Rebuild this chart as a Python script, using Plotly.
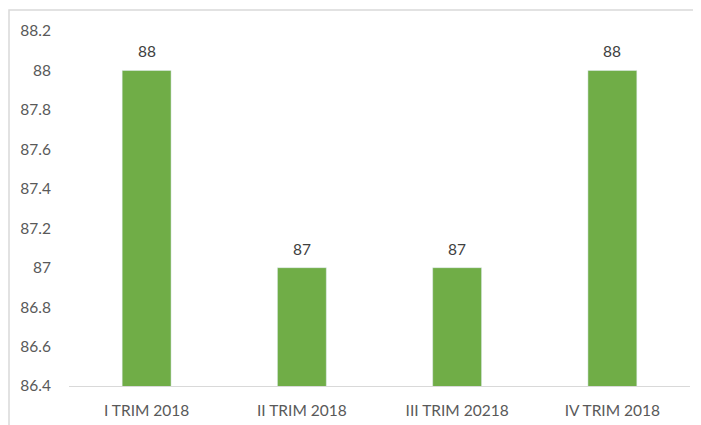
import plotly.graph_objects as go

categories = ["I TRIM 2018", "II TRIM 2018", "III TRIM 20218", "IV TRIM 2018"]
values = [88, 87, 87, 88]
tick_vals = [86.4, 86.6, 86.8, 87.0, 87.2, 87.4, 87.6, 87.8, 88.0, 88.2]
tick_text = ["86.4", "86.6", "86.8", "87", "87.2", "87.4", "87.6", "87.8", "88", "88.2"]

FONT = "Lato, 'Open Sans', sans-serif"
GREY = "#595959"
FS = 15.5

fig = go.Figure(go.Bar(
    x=categories, y=values, marker_color="#70AD47",
    hoverinfo="skip",
))

W, H = 701, 425
ml, mr, mt, mb = 61, 19, 23, 47
pw, ph = W - ml - mr, H - mt - mb

for c, v in zip(categories, values):
    fig.add_annotation(x=c, y=v, text=str(v), showarrow=False,
                       yanchor="middle", yshift=19,
                       font=dict(family=FONT, size=FS, color="#404040"))

fig.update_layout(
    width=W, height=H,
    margin=dict(l=ml, r=mr, t=mt, b=mb),
    paper_bgcolor="white", plot_bgcolor="white",
    bargap=0.685,
    showlegend=False,
    font=dict(family=FONT, size=FS, color=GREY),
    xaxis=dict(showline=True, linecolor="#d9d9d9", linewidth=1, ticks="",
               ticklabelstandoff=10,
               tickfont=dict(family=FONT, size=FS, color=GREY), showgrid=False),
    yaxis=dict(range=[86.4, 88.2], tickvals=tick_vals, ticktext=tick_text,
               showgrid=False, zeroline=False, showline=False, ticks="",
               ticklabelstandoff=17,
               tickfont=dict(family=FONT, size=FS, color=GREY)),
    shapes=[dict(type="rect", xref="paper", yref="paper",
                 x0=(1 - ml) / pw, x1=(W + 20 - ml) / pw,
                 y0=-(mb + 20) / ph, y1=1 + (mt - 2) / ph,
                 line=dict(color="#d9d9d9", width=1.5), layer="below")],
)

fig.write_html("out.html")
